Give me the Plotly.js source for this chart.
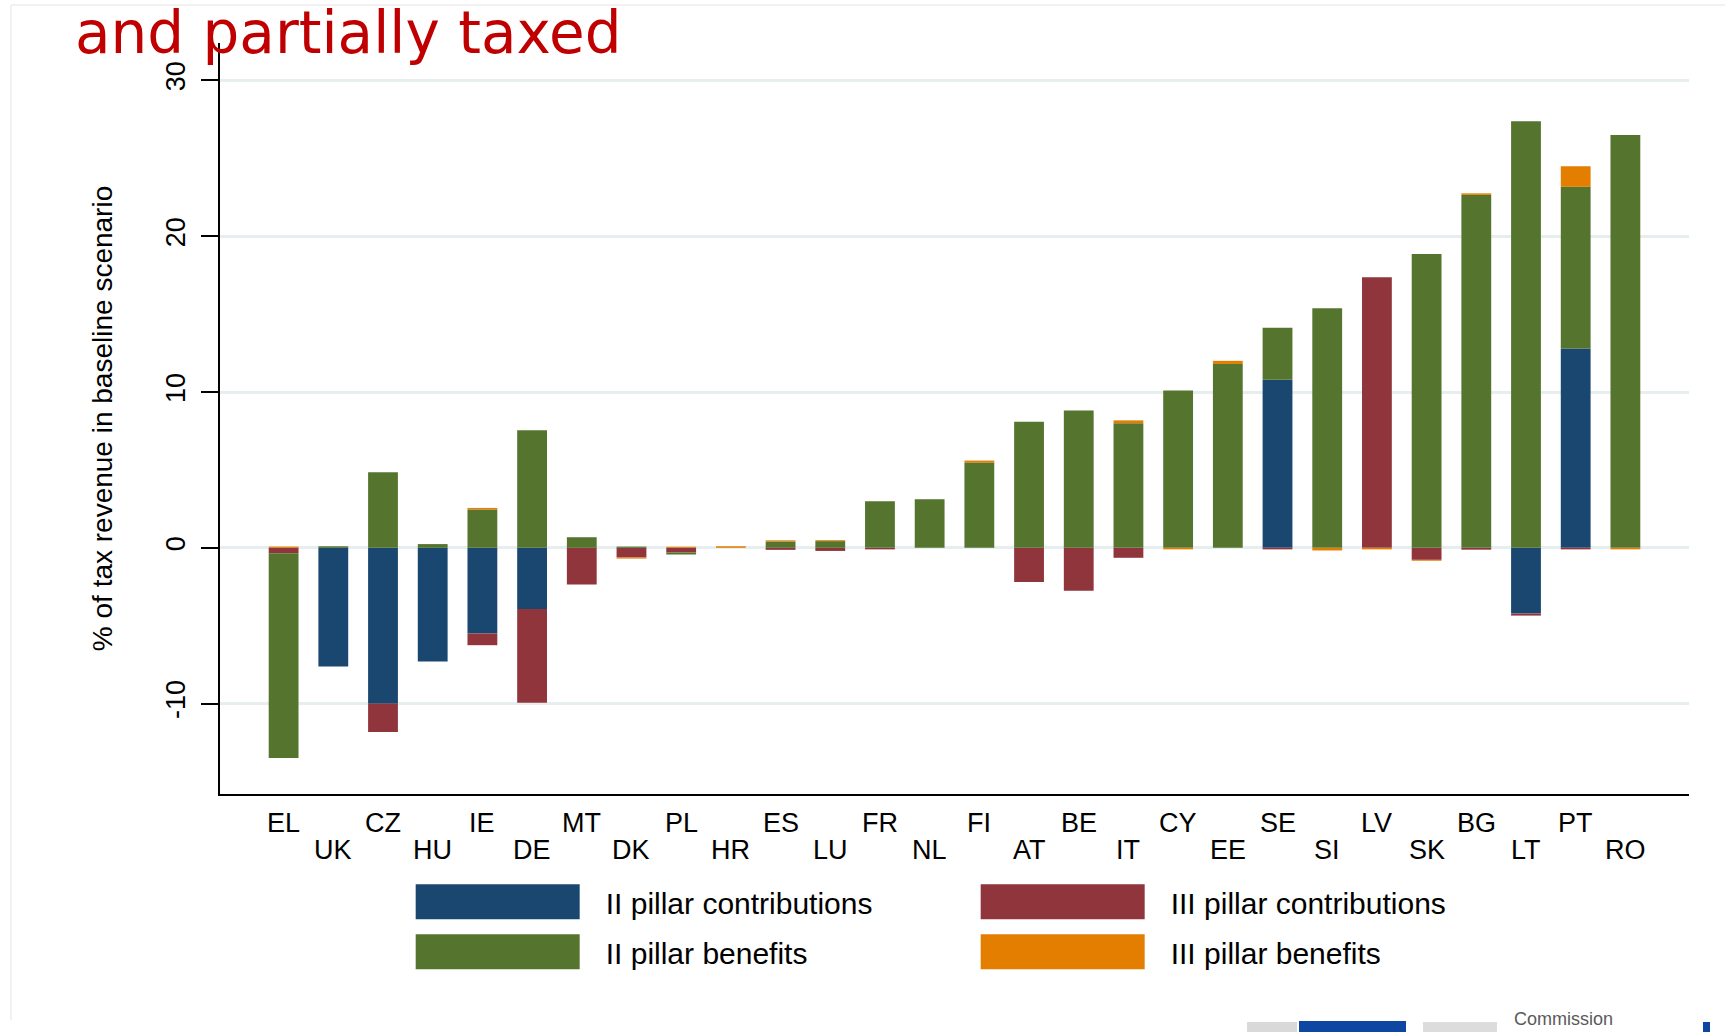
<!DOCTYPE html>
<html>
<head>
<meta charset="utf-8">
<script src="https://cdn.plot.ly/plotly-3.0.1.min.js"></script>
<style>
html,body{margin:0;padding:0;background:#fff;overflow:hidden;}
#chart{width:1725px;height:1032px;}
</style>
</head>
<body>
<div id="chart"></div>
<script>
// ---- data ----
const countries = ["EL","UK","CZ","HU","IE","DE","MT","DK","PL","HR","ES","LU","FR","NL","FI","AT","BE","IT","CY","EE","SE","SI","LV","SK","BG","LT","PT","RO"];

const seriesNames = ["II pillar contributions","III pillar contributions","II pillar benefits","III pillar benefits"];

const pillar2Contrib = [0,-7.62,-10.0,-7.3,-5.5,-3.93,0,0,0,0,0,0,0,0,0,0,0,0,0,0,10.78,0,0,0,0,-4.22,12.8,0];
const pillar3Contrib = [-0.35,0,-1.82,0,-0.75,-6.02,-2.35,-0.62,-0.3,0,-0.13,-0.2,-0.1,0,0,-2.2,-2.75,-0.64,0,0,-0.1,0,17.37,-0.77,-0.12,-0.13,-0.1,0];
const pillar2Benef  = [-13.14,0.1,4.85,0.24,2.46,7.55,0.68,0.08,-0.13,0,0.41,0.43,2.99,3.12,5.47,8.09,8.82,8.0,10.1,11.8,3.35,15.37,0,18.85,22.65,27.38,10.37,26.49];
const pillar3Benef  = [0.08,0,0,0,0.1,0,0,-0.07,0.07,0.1,0.07,0.06,0,0,0.13,0,0,0.18,-0.1,0.2,0,-0.17,-0.1,-0.06,0.1,0,1.32,-0.1];

const yTicks = [-10,0,10,20,30];
const titleText = "and partially taxed";
const yTitleText = "% of tax revenue in baseline scenario";
const footerText = "Commission";

// ---- styles ----
const colors = ["#1a476f","#90353b","#55752f","#e37e00"];
const seriesValues = [pillar2Contrib, pillar3Contrib, pillar2Benef, pillar3Benef];
const FONT = "Liberation Sans, Arial, sans-serif";

// plot area in pixels (for decorations outside the plot)
const PL = 220, PR = 1689, PT = 43, PB = 794;
const px2x = p => (p - PL) / (PR - PL);
const px2y = p => (PB - p) / (PB - PT);

const traces = seriesValues.map((vals, k) => ({
  type: "bar",
  name: seriesNames[k],
  x: countries,
  y: vals,
  marker: {color: colors[k], line: {width: 0}},
  hoverinfo: "x+y+name"
}));

const annotations = countries.map((c, i) => ({
  x: c, xref: "x",
  y: (i % 2 === 0) ? -0.038 : -0.075, yref: "paper",
  text: c, showarrow: false,
  xanchor: "center", yanchor: "middle",
  font: {family: FONT, size: 27, color: "#000"}
}));
annotations.push({
  x: px2x(1512), xref: "paper", xanchor: "left",
  y: px2y(1031), yref: "paper", yanchor: "bottom",
  text: footerText, showarrow: false,
  font: {family: FONT, size: 18, color: "#5a5a5a"}
});

const shapes = [
  // faint slide frame
  {type: "line", xref: "paper", yref: "paper", x0: px2x(11), x1: px2x(11), y0: px2y(5), y1: px2y(1020), line: {color: "#ececec", width: 1.5}},
  {type: "line", xref: "paper", yref: "paper", x0: px2x(11), x1: px2x(1725), y0: px2y(5), y1: px2y(5), line: {color: "#ececec", width: 1.5}},
  // logo fragments at the bottom edge
  {type: "rect", xref: "paper", yref: "paper", x0: px2x(1247), x1: px2x(1297), y0: px2y(1022), y1: px2y(1034), line: {width: 0}, fillcolor: "#d9d9d9"},
  {type: "rect", xref: "paper", yref: "paper", x0: px2x(1299), x1: px2x(1406), y0: px2y(1021), y1: px2y(1034), line: {width: 0}, fillcolor: "#0d47a1"},
  {type: "rect", xref: "paper", yref: "paper", x0: px2x(1423), x1: px2x(1497), y0: px2y(1022), y1: px2y(1034), line: {width: 0}, fillcolor: "#dcdcdc"},
  {type: "rect", xref: "paper", yref: "paper", x0: px2x(1703), x1: px2x(1710), y0: px2y(1022), y1: px2y(1034), line: {width: 0}, fillcolor: "#0d47a1"}
];

const layout = {
  width: 1725, height: 1032,
  paper_bgcolor: "#fff", plot_bgcolor: "#fff",
  margin: {l: PL, r: 1725 - PR, t: PT, b: 1032 - PB},
  barmode: "relative",
  bargap: 0.4,
  title: {
    text: titleText,
    font: {family: "DejaVu Sans, sans-serif", size: 58, color: "#c00000"},
    x: 75/1725, xanchor: "left", xref: "container",
    y: 0.988, yanchor: "top", yref: "container"
  },
  xaxis: {
    type: "category",
    range: [-1.28, 28.28],
    showticklabels: false,
    ticks: "",
    showgrid: false,
    zeroline: false,
    showline: true, linecolor: "#000", linewidth: 2
  },
  yaxis: {
    range: [-15.8, 32.4],
    tickvals: yTicks,
    ticktext: yTicks.map(String),
    tickangle: -90,
    ticks: "outside", ticklen: 17, tickwidth: 2, tickcolor: "#000",
    ticklabelstandoff: 5,
    tickfont: {family: FONT, size: 27, color: "#000"},
    showline: true, linecolor: "#000", linewidth: 2,
    showgrid: true, gridcolor: "#e6eef0", gridwidth: 3,
    zeroline: false,
    title: {text: yTitleText, font: {family: FONT, size: 28, color: "#000"}, standoff: 40}
  },
  showlegend: true,
  legend: {
    orientation: "h",
    x: 0.123, xanchor: "left",
    y: -0.109, yanchor: "top",
    traceorder: "normal",
    itemwidth: 195,
    entrywidth: 355, entrywidthmode: "pixels",
    font: {family: FONT, size: 30, color: "#000"},
    bgcolor: "rgba(0,0,0,0)"
  },
  annotations: annotations,
  shapes: shapes
};

Plotly.newPlot("chart", traces, layout, {displayModeBar: false, staticPlot: true}).then(gd => {
  // let legend items extend outside the legend's scroll box
  gd.querySelectorAll(".legend .scrollbox, .legend").forEach(s => s.removeAttribute("clip-path"));
  const items = Array.from(gd.querySelectorAll(".legend .traces"));
  const parseT = el => {
    const m = /translate\(\s*([-\d.]+)[ ,]+([-\d.]+)/.exec(el.getAttribute("transform") || "");
    return m ? [parseFloat(m[1]), parseFloat(m[2])] : [0, 0];
  };
  const ys = items.map(el => parseT(el)[1]);
  const yMin = Math.min(...ys);
  // open up the row spacing a bit, as in the original
  items.forEach(el => {
    const [tx, ty] = parseT(el);
    if (ty > yMin + 1) el.setAttribute("transform", `translate(${tx},${ty + 8})`);
  });
  // enlarge legend keys to wide rectangles like the original
  items.forEach(tr => {
    const txt = tr.querySelector("text.legendtext");
    const path = tr.querySelector(".legendpoints path");
    if (!txt || !path) return;
    const tb = txt.getBoundingClientRect();
    const pb = path.getBoundingClientRect();
    const cx = (pb.left + pb.right) / 2;
    const right = (tb.left - 26) - cx;
    const left = right - 164;
    path.setAttribute("d", `M${left},-17.5H${right}V17.5H${left}Z`);
  });
});
</script>
</body>
</html>
